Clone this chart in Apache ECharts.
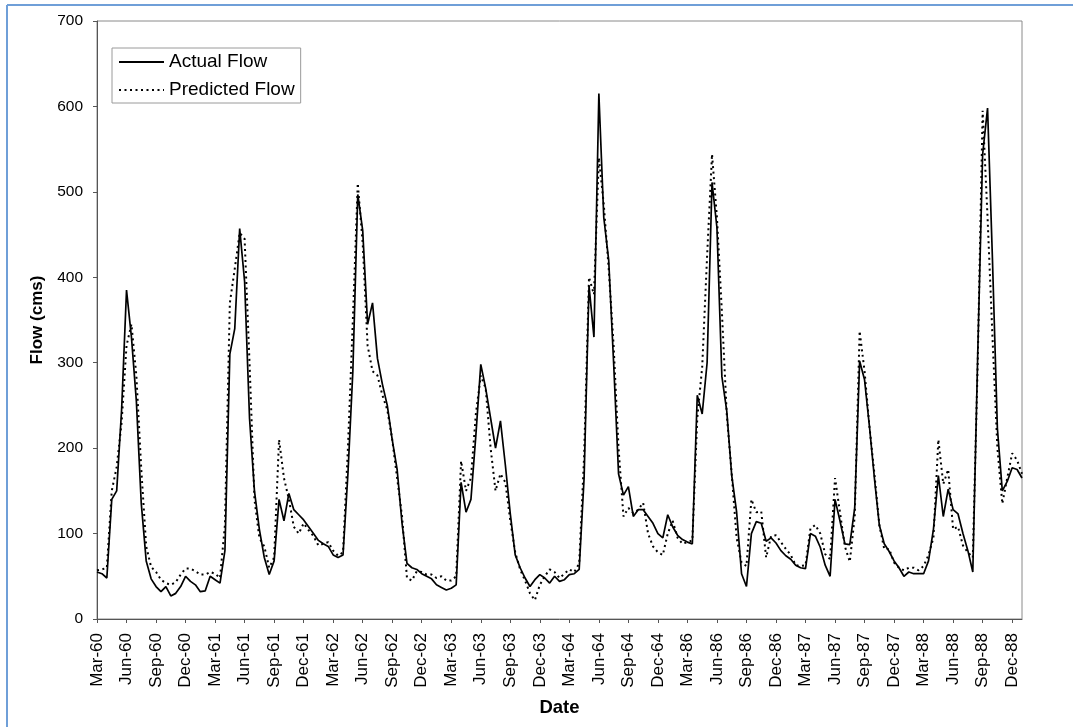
<!DOCTYPE html>
<html>
<head>
<meta charset="utf-8">
<title>Actual vs Predicted Flow</title>
<script src="https://cdn.jsdelivr.net/npm/echarts@6/dist/echarts.min.js"></script>
<style>
  html, body { margin: 0; padding: 0; background: #fff; }
  #chart { width: 1073px; height: 727px; }
</style>
</head>
<body>
<div id="chart"></div>
<script>
// quarter labels of the date axis (record jumps from Dec-64 to Mar-86)
var tickLabels = [
  "Mar-60", "Jun-60", "Sep-60", "Dec-60", "Mar-61", "Jun-61", "Sep-61", "Dec-61",
  "Mar-62", "Jun-62", "Sep-62", "Dec-62", "Mar-63", "Jun-63", "Sep-63", "Dec-63",
  "Mar-64", "Jun-64", "Sep-64", "Dec-64", "Mar-86", "Jun-86", "Sep-86", "Dec-86",
  "Mar-87", "Jun-87", "Sep-87", "Dec-87", "Mar-88", "Jun-88", "Sep-88", "Dec-88"
];
var stepsPerQuarter = 6; // half-month steps

// flow in cms, one value per half month
var actualFlow = [
  55, 53, 48, 140, 150, 245, 385, 330, 255, 135, 68, 47,
  38, 32, 38, 27, 30, 38, 50, 44, 40, 32, 33, 50,
  46, 42, 80, 310, 340, 457, 395, 235, 150, 105, 72, 52,
  68, 140, 115, 147, 128, 122, 116, 108, 100, 92, 88, 85,
  75, 72, 75, 170, 290, 497, 455, 345, 370, 305, 275, 250,
  210, 175, 112, 65, 60, 58, 53, 50, 47, 40, 37, 34,
  36, 40, 160, 125, 140, 215, 298, 270, 235, 200, 232, 180,
  123, 75, 60, 48, 38, 46, 52, 48, 42, 50, 44, 46,
  52, 53, 58, 165, 390, 330, 615, 470, 420, 300, 170, 145,
  155, 120, 128, 128, 120, 112, 100, 95, 122, 108, 98, 93,
  90, 88, 262, 240, 300, 511, 458, 284, 243, 168, 125, 53,
  38, 100, 114, 112, 91, 95, 89, 80, 74, 70, 63, 60,
  59, 100, 97, 84, 63, 50, 140, 115, 88, 87, 130, 302,
  280, 225, 165, 110, 88, 79, 68, 60, 50, 55, 53, 53,
  53, 68, 105, 168, 120, 152, 128, 123, 100, 80, 55, 310,
  544, 598, 420, 223, 150, 161, 177, 175, 165
];

var predictedFlow = [
  57, 58, 60, 150, 178, 230, 320, 345, 285, 175, 85, 61,
  55, 46, 42, 40, 43, 52, 59, 59, 56, 52, 52, 55,
  53, 48, 110, 370, 410, 452, 445, 300, 140, 95, 85, 60,
  72, 210, 165, 140, 108, 100, 112, 104, 97, 86, 88, 90,
  80, 74, 78, 200, 350, 510, 440, 320, 290, 285, 262, 245,
  210, 165, 120, 48, 45, 56, 55, 52, 52, 48, 50, 45,
  45, 50, 185, 150, 165, 240, 285, 270, 200, 150, 170, 160,
  115, 78, 58, 45, 30, 22, 40, 50, 58, 55, 48, 53,
  58, 55, 65, 190, 400, 380, 540, 485, 410, 320, 200, 120,
  130, 124, 128, 136, 100, 85, 78, 75, 100, 115, 95, 88,
  90, 92, 235, 295, 425, 544, 470, 360, 239, 170, 95, 66,
  62, 140, 125, 126, 72, 97, 98, 90, 82, 75, 63, 62,
  63, 106, 110, 100, 76, 70, 165, 125, 85, 67, 120, 337,
  290, 225, 170, 110, 82, 82, 66, 60, 57, 60, 60, 57,
  62, 75, 95, 210, 158, 175, 105, 108, 86, 78, 72, 300,
  595, 470, 330, 200, 135, 165, 194, 186, 170
];

// one category per half month; only quarter starts get a label
var categories = [];
for (var i = 0; i < actualFlow.length; i++) {
  var q = Math.floor(i / stepsPerQuarter);
  var k = i % stepsPerQuarter;
  categories.push(k === 0 ? tickLabels[q] : tickLabels[q] + "_" + k);
}

var font = "'Liberation Sans', Arial, sans-serif";
var chart = echarts.init(document.getElementById("chart"));

var option = {
  animation: false,
  backgroundColor: "#fff",
  grid: {
    left: 97,
    right: 51,
    top: 21,
    bottom: 108,
    show: true,
    borderColor: "#8a8a8a",
    borderWidth: 1
  },
  legend: {
    orient: "vertical",
    left: 112,
    top: 48,
    itemWidth: 45,
    itemHeight: 14,
    itemGap: 8,
    padding: [4, 6, 3, 6],
    backgroundColor: "#fff",
    borderColor: "#9a9a9a",
    borderWidth: 1,
    itemStyle: { opacity: 0 },
    textStyle: { fontFamily: font, fontSize: 19, color: "#000", lineHeight: 20 },
    data: ["Actual Flow", "Predicted Flow"]
  },
  xAxis: {
    type: "category",
    data: categories,
    boundaryGap: false,
    name: "Date",
    nameLocation: "middle",
    nameGap: 79,
    nameTextStyle: { fontFamily: font, fontSize: 18.5, fontWeight: "bold", color: "#000" },
    axisLine: { lineStyle: { color: "#555", width: 1 } },
    axisTick: { interval: stepsPerQuarter - 1, length: 4, lineStyle: { color: "#555" } },
    axisLabel: {
      interval: stepsPerQuarter - 1,
      rotate: 90,
      margin: 14,
      fontFamily: font,
      fontSize: 17,
      color: "#000"
    },
    splitLine: { show: false }
  },
  yAxis: {
    type: "value",
    min: 0,
    max: 700,
    interval: 100,
    name: "Flow (cms)",
    nameLocation: "middle",
    nameGap: 44,
    nameRotate: 90,
    nameTextStyle: { fontFamily: font, fontSize: 17, fontWeight: "bold", color: "#000" },
    axisLine: { show: true, lineStyle: { color: "#555", width: 1 } },
    axisTick: { show: true, length: 4, lineStyle: { color: "#555" } },
    axisLabel: { margin: 14, fontFamily: font, fontSize: 15.5, color: "#000" },
    splitLine: { show: false }
  },
  series: [
    {
      name: "Actual Flow",
      type: "line",
      data: actualFlow,
      symbol: "none",
      itemStyle: { color: "#000" },
      lineStyle: { color: "#000", width: 1.7 },
      z: 2
    },
    {
      name: "Predicted Flow",
      type: "line",
      data: predictedFlow,
      symbol: "none",
      itemStyle: { color: "#000" },
      lineStyle: { color: "#000", width: 2, type: [2, 3.5] },
      z: 3
    }
  ],
  graphic: [
    {
      type: "line",
      shape: { x1: 7, y1: 5, x2: 1073, y2: 5 },
      style: { stroke: "#6f9fd8", lineWidth: 2 }
    },
    {
      type: "line",
      shape: { x1: 7, y1: 5, x2: 7, y2: 727 },
      style: { stroke: "#6f9fd8", lineWidth: 2 }
    }
  ]
};

chart.setOption(option);
</script>
</body>
</html>
